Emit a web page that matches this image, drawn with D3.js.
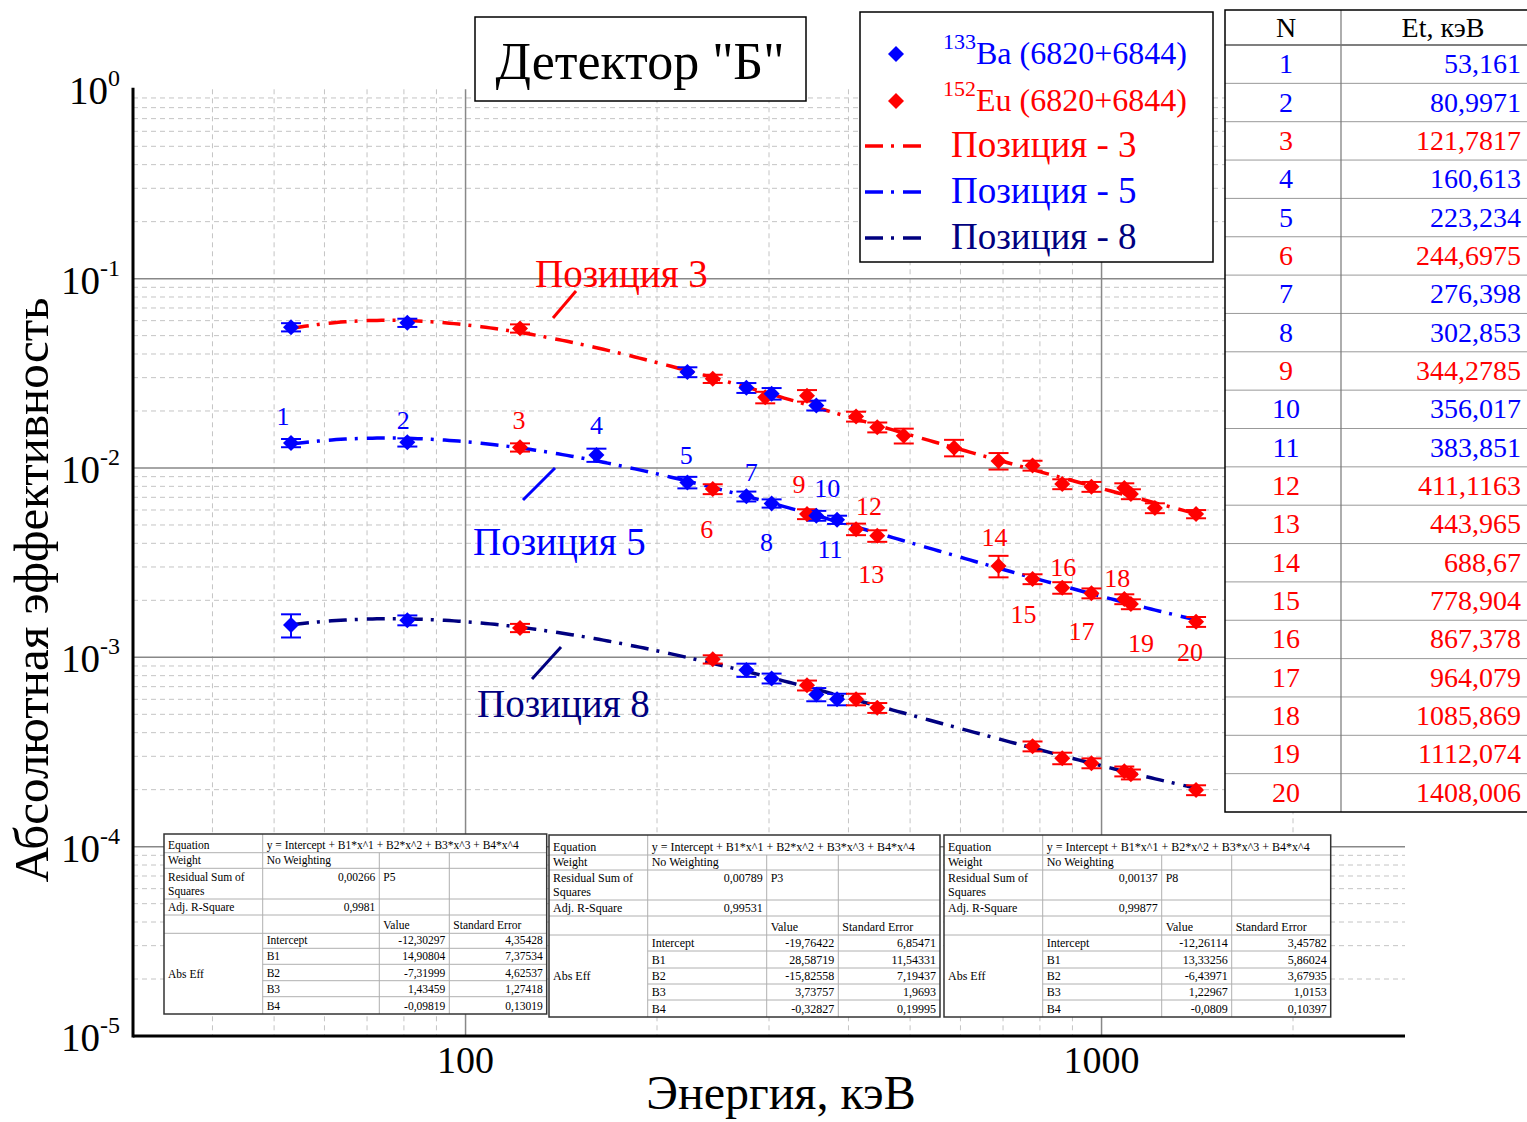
<!DOCTYPE html>
<html><head><meta charset="utf-8">
<script src="https://cdn.jsdelivr.net/npm/d3@7"></script>
<style>
body{margin:0;background:#fff}
svg{display:block}
text{font-family:"Liberation Serif","Times New Roman",serif}
</style>
</head><body>
<svg id="c" width="1527" height="1122"></svg>
<script>
// ---------------- DATA ----------------
const tableN = [1,2,3,4,5,6,7,8,9,10,11,12,13,14,15,16,17,18,19,20];
const tableEnergy = [53.161,80.9971,121.7817,160.613,223.234,244.6975,276.398,302.853,344.2785,356.017,383.851,411.1163,443.965,688.67,778.904,867.378,964.079,1085.869,1112.074,1408.006];
const tableSource = ['Ba','Ba','Eu','Ba','Ba','Eu','Ba','Ba','Eu','Ba','Ba','Eu','Eu','Eu','Eu','Eu','Eu','Eu','Eu','Eu'];

// Position 3 (includes extra 152Eu lines)
const p3Energy = [53.161,80.9971,121.7817,223.234,244.6975,276.398,295.939,302.853,344.2785,356.017,411.1163,443.965,488.679,586.265,688.67,778.904,867.378,964.079,1085.869,1112.074,1212.948,1408.006];
const p3Source = ['Ba','Ba','Eu','Ba','Eu','Ba','Eu','Ba','Eu','Ba','Eu','Eu','Eu','Eu','Eu','Eu','Eu','Eu','Eu','Eu','Eu','Eu'];
const p3Eff = [0.0554,0.0585,0.0546,0.0321,0.0296,0.0265,0.0236,0.0247,0.0241,0.0214,0.0187,0.0164,0.0148,0.0128,0.0109,0.0103,0.00822,0.00796,0.00783,0.00728,0.00614,0.00571];
const p3ErrPct = [5,5,5,6,5,6,7,7,7,6,6,6,9,10,10,6,6,6,6,6,6,5];

// Position 5 (all table points)
const p5Eff = [0.01355,0.01366,0.01285,0.01171,0.00839,0.00774,0.00708,0.00650,0.00571,0.00560,0.00533,0.00475,0.00438,0.00304,0.00259,0.00233,0.00218,0.00203,0.00191,0.00154];
const p5ErrPct = [5,5,5,8,7,6,6,5,6,6,5,7,7,13,6,7,6,6,6,6];

// Position 8
const p8N = [1,2,3,6,7,8,9,10,11,12,13,15,16,17,18,19,20];
const p8Eff = [0.00148,0.00157,0.00143,0.000976,0.000857,0.000774,0.000711,0.000637,0.000600,0.000600,0.000541,0.000339,0.000293,0.000276,0.000250,0.000241,0.000199];
const p8ErrPct = [14,6,5,5,8,6,6,8,7,7,6,6,7,6,6,6,6];

// Polynomial fits: log10(eff) = sum Bi * log10(E)^i
const p5Coef = [-12.30297,14.90804,-7.31999,1.43459,-0.09819];
const p5CoefErr = [4.35428,7.37534,4.62537,1.27418,0.13019];
const p3Coef = [-19.76422,28.58719,-15.82558,3.73757,-0.32827];
const p3CoefErr = [6.85471,11.54331,7.19437,1.9693,0.19995];
const p8Coef = [-12.26114,13.33256,-6.43971,1.22967,-0.0809];
const p8CoefErr = [3.45782,5.86024,3.67935,1.0153,0.10397];
const fitRSS = ["0,00266","0,00789","0,00137"];
const fitAdjR = ["0,9981","0,99531","0,99877"];
const fitNames = ["P5","P3","P8"];
const coefNames = ["Intercept","B1","B2","B3","B4"];

const xTickValues = [100,1000];
const yTickExp = [0,-1,-2,-3,-4,-5];

// ---------------- LAYOUT ----------------
const W=1527,H=1122;
const L=133,R=1405,T=89.3,B=1036;
const colBa="#0000FF", colEu="#FF0000", colNavy="#000080";
const srcColor = s => s==='Ba'?colBa:colEu;
const dashPat = "18,8,3,9";
const DIA = "M0,-8L8,0L0,8L-8,0Z";

const svg = d3.select("#c");
const x = d3.scaleLog().domain([30,3000]).range([L,R]);
const y = d3.scaleLog().domain([1e-5,1]).range([B,T]);

// grid
const gGrid = svg.append("g");
const minorX = [];
[10,100,1000].forEach(d=>{for(let k=2;k<=9;k++){const v=k*d; if(v>30 && v<3000) minorX.push(v);}});
const minorY = [];
[1e-5,1e-4,1e-3,1e-2,1e-1].forEach(d=>{for(let k=2;k<=9;k++) minorY.push(k*d);});
gGrid.selectAll(".mx").data(minorX).join("line")
  .attr("x1",d=>x(d)).attr("x2",d=>x(d)).attr("y1",T).attr("y2",B)
  .attr("stroke","#c4c4c4").attr("stroke-width",1).attr("stroke-dasharray","5,4");
gGrid.selectAll(".my").data(minorY).join("line")
  .attr("x1",L).attr("x2",R).attr("y1",d=>y(d)).attr("y2",d=>y(d))
  .attr("stroke","#c4c4c4").attr("stroke-width",1).attr("stroke-dasharray","5,4");
gGrid.selectAll(".Mx").data(xTickValues).join("line")
  .attr("x1",d=>x(d)).attr("x2",d=>x(d)).attr("y1",T).attr("y2",B)
  .attr("stroke","#888").attr("stroke-width",1.5);
gGrid.selectAll(".My").data([1e-1,1e-2,1e-3,1e-4]).join("line")
  .attr("x1",L).attr("x2",R).attr("y1",d=>y(d)).attr("y2",d=>y(d))
  .attr("stroke","#888").attr("stroke-width",1.5);

// axes lines
svg.append("line").attr("x1",L).attr("x2",L).attr("y1",T-1.5).attr("y2",B+1.5).attr("stroke","#000").attr("stroke-width",3);
svg.append("line").attr("x1",L).attr("x2",R).attr("y1",B).attr("y2",B).attr("stroke","#000").attr("stroke-width",3);

// tick labels
svg.selectAll(".xt").data(xTickValues).join("text")
  .attr("x",d=>x(d)).attr("y",B+37).attr("text-anchor","middle")
  .attr("font-size",38).text(d=>d);
const yt = svg.selectAll(".yt").data(yTickExp).join("text")
  .attr("x",120).attr("y",d=>y(Math.pow(10,d))+15).attr("text-anchor","end").attr("font-size",39);
yt.append("tspan").text("10");
yt.append("tspan").attr("font-size",24).attr("dy",-18).text(d=>String(d));

// axis titles
svg.append("text").attr("x",781).attr("y",1109).attr("text-anchor","middle").attr("font-size",48).text("Энергия, кэВ");
svg.append("text").attr("transform","translate(48,590) rotate(-90)").attr("text-anchor","middle").attr("font-size",49).text("Абсолютная эффективность");

// fit curves
function poly(c,e){const t=Math.log10(e);let s=0;for(let i=0;i<c.length;i++) s+=c[i]*Math.pow(t,i);return Math.pow(10,s);}
function curveData(c){
  const a=Math.log10(tableEnergy[0]), b=Math.log10(tableEnergy[tableEnergy.length-1]);
  return d3.range(0,201).map(i=>{const e=Math.pow(10,a+(b-a)*i/200);return [e,poly(c,e)];});
}
const line = d3.line().x(d=>x(d[0])).y(d=>y(d[1]));
const gCurves = svg.append("g");
[[p3Coef,colEu],[p5Coef,colBa],[p8Coef,colNavy]].forEach(([c,col])=>{
  gCurves.append("path").attr("d",line(curveData(c))).attr("fill","none")
    .attr("stroke",col).attr("stroke-width",3.5).attr("stroke-dasharray",dashPat);
});

// points with error bars
function drawPoints(energies, effs, errs, sources){
  const pts = energies.map((e,i)=>({e, v:effs[i], err:errs[i]/100, s:sources[i]}));
  const g = svg.append("g");
  const eb = g.selectAll("g").data(pts).join("g").attr("stroke",d=>srcColor(d.s)).attr("stroke-width",2);
  eb.append("line").attr("x1",d=>x(d.e)).attr("x2",d=>x(d.e)).attr("y1",d=>y(d.v*(1+d.err))).attr("y2",d=>y(d.v*(1-d.err)));
  eb.append("line").attr("x1",d=>x(d.e)-10).attr("x2",d=>x(d.e)+10).attr("y1",d=>y(d.v*(1+d.err))).attr("y2",d=>y(d.v*(1+d.err)));
  eb.append("line").attr("x1",d=>x(d.e)-10).attr("x2",d=>x(d.e)+10).attr("y1",d=>y(d.v*(1-d.err))).attr("y2",d=>y(d.v*(1-d.err)));
  g.selectAll("path").data(pts).join("path")
    .attr("d",DIA)
    .attr("transform",d=>`translate(${x(d.e)},${y(d.v)})`)
    .attr("fill",d=>srcColor(d.s));
}
drawPoints(p3Energy,p3Eff,p3ErrPct,p3Source);
drawPoints(tableEnergy,p5Eff,p5ErrPct,tableSource);
drawPoints(p8N.map(n=>tableEnergy[n-1]),p8Eff,p8ErrPct,p8N.map(n=>tableSource[n-1]));

// point number labels on Position 5 curve (offsets are layout)
const labelOffset = [[-8,-27],[-4,-22],[-1,-27],[0,-30],[-1,-27],[-6,40],[5,-24],[-5,39],[-8,-30],[11,-28],[-7,29],[13,-23],[-6,38],[-4,-29],[-9,35],[1,-21],[-10,38],[-7,-21],[10,39],[-6,30]];
svg.selectAll(".nl").data(tableN).join("text")
  .attr("x",(d,i)=>x(tableEnergy[i])+labelOffset[i][0])
  .attr("y",(d,i)=>y(p5Eff[i])+labelOffset[i][1]+9)
  .attr("text-anchor","middle").attr("font-size",26)
  .attr("fill",(d,i)=>srcColor(tableSource[i])).text(d=>d);

// curve annotations
const ann = [
  {t:"Позиция 3",x:535,y:287,col:colEu,l:[553,318,576,291]},
  {t:"Позиция 5",x:473,y:555,col:colBa,l:[523,500,555,468]},
  {t:"Позиция 8",x:477,y:717,col:colNavy,l:[532,679,561,647]}
];
ann.forEach(a=>{
  svg.append("line").attr("x1",a.l[0]).attr("y1",a.l[1]).attr("x2",a.l[2]).attr("y2",a.l[3]).attr("stroke",a.col).attr("stroke-width",3);
  svg.append("text").attr("x",a.x).attr("y",a.y).attr("font-size",39).attr("fill",a.col).text(a.t);
});

// fit tables
function fmt(v){return String(v).replace(".",",");}
function fitTable(x0,y0,cw,rh,fs,k,coef,cerr){
  const g=svg.append("g").attr("font-size",fs);
  const cx=[x0];cw.forEach(w=>cx.push(cx[cx.length-1]+w));
  const ry=[y0];rh.forEach(h=>ry.push(ry[ry.length-1]+h));
  g.append("rect").attr("x",cx[0]).attr("y",ry[0]).attr("width",cx[4]-cx[0]).attr("height",ry[10]-ry[0]).attr("fill","#fff");
  const ln=(x1,y1,x2,y2)=>g.append("line").attr("x1",x1).attr("y1",y1).attr("x2",x2).attr("y2",y2).attr("stroke","#b0b0b0").attr("stroke-width",1);
  for(let i=1;i<=5;i++) ln(cx[0],ry[i],cx[4],ry[i]);
  for(let i=6;i<=9;i++) ln(cx[1],ry[i],cx[4],ry[i]);
  ln(cx[1],ry[0],cx[1],ry[10]); ln(cx[2],ry[1],cx[2],ry[10]); ln(cx[3],ry[1],cx[3],ry[10]);
  g.append("rect").attr("x",cx[0]).attr("y",ry[0]).attr("width",cx[4]-cx[0]).attr("height",ry[10]-ry[0]).attr("fill","none").attr("stroke","#333").attr("stroke-width",1.5);
  const tx=(xx,yy,s,anchor)=>g.append("text").attr("x",xx).attr("y",yy).attr("text-anchor",anchor||"start").text(s);
  const bl=i=>ry[i+1]-4;
  tx(cx[0]+4,bl(0),"Equation");
  tx(cx[1]+4,bl(0),"y = Intercept + B1*x^1 + B2*x^2 + B3*x^3 + B4*x^4");
  tx(cx[0]+4,bl(1),"Weight"); tx(cx[1]+4,bl(1),"No Weighting");
  const r2a=ry[2]+rh[2]/2-3;
  tx(cx[0]+4,r2a,"Residual Sum of"); tx(cx[0]+4,bl(2),"Squares");
  tx(cx[2]-4,r2a,fitRSS[k],"end"); tx(cx[2]+4,r2a,fitNames[k]);
  tx(cx[0]+4,bl(3),"Adj. R-Square"); tx(cx[2]-4,bl(3),fitAdjR[k],"end");
  tx(cx[2]+4,bl(4),"Value"); tx(cx[3]+4,bl(4),"Standard Error");
  tx(cx[0]+4,(ry[5]+ry[10])/2+4,"Abs Eff");
  coefNames.forEach((n,j)=>{
    tx(cx[1]+4,bl(5+j),n);
    tx(cx[3]-4,bl(5+j),fmt(coef[j]),"end");
    tx(cx[4]-4,bl(5+j),fmt(cerr[j]),"end");
  });
}
fitTable(164,834,[98.7,116.6,70,97.4],[18.7,15.6,30.7,16,18.3,15,16,16.4,16,17.3],11.5,0,p5Coef,p5CoefErr);
fitTable(549,835,[98.7,119,71.6,101.7],[20,15,30,16,19,16,17,16,16,17],12,1,p3Coef,p3CoefErr);
fitTable(944,835,[98.7,119,70,99],[20,15,30,16,19,16,17,16,16,17],12,2,p8Coef,p8CoefErr);

// title box
svg.append("rect").attr("x",475).attr("y",17).attr("width",331).attr("height",84).attr("fill","#fff").attr("stroke","#000").attr("stroke-width",1.5);
svg.append("text").attr("x",640).attr("y",79).attr("text-anchor","middle").attr("font-size",52).text('Детектор "Б"');

// legend
const gl=svg.append("g");
gl.append("rect").attr("x",860).attr("y",12).attr("width",353).attr("height",250).attr("fill","#fff").attr("stroke","#000").attr("stroke-width",1.5);
[["133","Ba (6820+6844)",colBa,54],["152","Eu (6820+6844)",colEu,101]].forEach(([m,t,c,yy])=>{
  gl.append("path").attr("d",DIA).attr("transform",`translate(896,${yy})`).attr("fill",c);
  const tt=gl.append("text").attr("x",943).attr("y",yy+10).attr("fill",c).attr("font-size",32);
  tt.append("tspan").attr("font-size",22).attr("dy",-15).text(m);
  tt.append("tspan").attr("dy",15).text(t);
});
[["Позиция - 3",colEu,146],["Позиция - 5",colBa,192],["Позиция - 8",colNavy,238]].forEach(([t,c,yy])=>{
  gl.append("line").attr("x1",865).attr("x2",925).attr("y1",yy).attr("y2",yy).attr("stroke",c).attr("stroke-width",3.5).attr("stroke-dasharray",dashPat);
  gl.append("text").attr("x",951).attr("y",yy+11).attr("fill",c).attr("font-size",37).text(t);
});

// right table of energies
const tL=1225,tT=10,tH=35,rH=38.35,tDiv=1341;
const gt=svg.append("g").attr("font-size",28);
gt.append("rect").attr("x",tL).attr("y",tT).attr("width",W-tL+5).attr("height",tH+rH*20).attr("fill","#fff");
d3.range(1,20).forEach(i=>gt.append("line").attr("x1",tL).attr("x2",W).attr("y1",tT+tH+rH*i).attr("y2",tT+tH+rH*i).attr("stroke","#999").attr("stroke-width",1));
gt.append("line").attr("x1",tL).attr("x2",W).attr("y1",tT+tH).attr("y2",tT+tH).attr("stroke","#555").attr("stroke-width",1.5);
gt.append("line").attr("x1",tDiv).attr("x2",tDiv).attr("y1",tT).attr("y2",tT+tH+rH*20).attr("stroke","#777").attr("stroke-width",1.2);
gt.append("rect").attr("x",tL).attr("y",tT).attr("width",W-tL+5).attr("height",tH+rH*20).attr("fill","none").attr("stroke","#000").attr("stroke-width",1.5);
gt.append("text").attr("x",1286).attr("y",tT+27).attr("text-anchor","middle").text("N");
gt.append("text").attr("x",1443).attr("y",tT+27).attr("text-anchor","middle").text("Et, кэВ");
gt.selectAll(".tn").data(tableN).join("text")
  .attr("x",1286).attr("y",(d,i)=>tT+tH+rH*i+rH/2+9).attr("text-anchor","middle")
  .attr("fill",(d,i)=>srcColor(tableSource[i])).text(d=>d);
gt.selectAll(".te").data(tableEnergy).join("text")
  .attr("x",1521).attr("y",(d,i)=>tT+tH+rH*i+rH/2+9).attr("text-anchor","end")
  .attr("fill",(d,i)=>srcColor(tableSource[i])).text(d=>fmt(d));
</script>
</body></html>
